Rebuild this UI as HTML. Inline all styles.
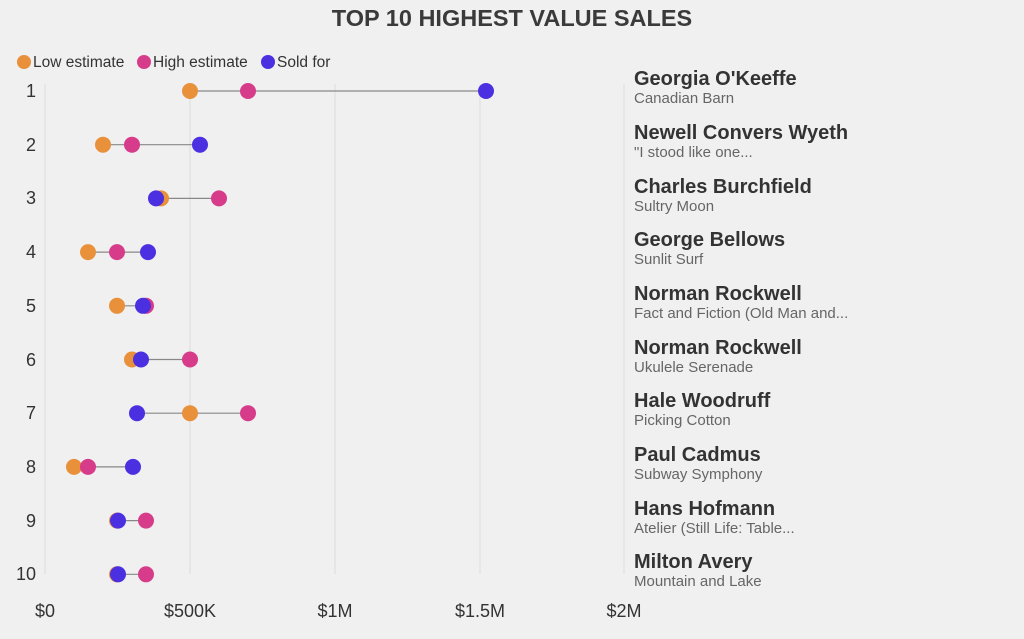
<!DOCTYPE html>
<html><head><meta charset="utf-8"><style>
body{margin:0;background:#f0f0f0;font-family:"Liberation Sans",sans-serif;}
</style></head><body>
<svg width="1024" height="634" xmlns="http://www.w3.org/2000/svg" font-family="Liberation Sans, sans-serif">
<rect width="1024" height="634" fill="#f0f0f0"/>
<text x="512" y="26" text-anchor="middle" font-size="23.5" font-weight="bold" fill="#3a3a3a">TOP 10 HIGHEST VALUE SALES</text>
<g font-size="15.5" fill="#333">
<circle cx="24" cy="62" r="7" fill="#E8903A"/><text x="33" y="67">Low estimate</text>
<circle cx="144" cy="62" r="7" fill="#D63C8A"/><text x="153" y="67">High estimate</text>
<circle cx="268" cy="62" r="7" fill="#4A30E0"/><text x="277" y="67">Sold for</text>
</g>
<g stroke="#dcdcdc" stroke-width="1">
<line x1="45" y1="84" x2="45" y2="574"/><line x1="190" y1="84" x2="190" y2="574"/>
<line x1="335" y1="84" x2="335" y2="574"/><line x1="480" y1="84" x2="480" y2="574"/>
<line x1="624" y1="84" x2="624" y2="574"/>
</g>
<g font-size="18" fill="#333" text-anchor="middle">
<text x="45" y="617">$0</text><text x="190" y="617">$500K</text><text x="335" y="617">$1M</text><text x="480" y="617">$1.5M</text><text x="624" y="617">$2M</text>
</g>
<g font-size="18" fill="#333" text-anchor="end">
<text x="36" y="97">1</text><text x="36" y="151">2</text><text x="36" y="204">3</text><text x="36" y="258">4</text><text x="36" y="312">5</text><text x="36" y="366">6</text><text x="36" y="419">7</text><text x="36" y="473">8</text><text x="36" y="527">9</text><text x="36" y="580">10</text>
</g>
<g stroke="#888" stroke-width="1.2">
<line x1="190" y1="91" x2="486" y2="91"/>
<line x1="103" y1="144.7" x2="200" y2="144.7"/>
<line x1="156" y1="198.4" x2="219" y2="198.4"/>
<line x1="88" y1="252.1" x2="148" y2="252.1"/>
<line x1="117" y1="305.8" x2="146" y2="305.8"/>
<line x1="132" y1="359.5" x2="190" y2="359.5"/>
<line x1="137" y1="413.2" x2="248" y2="413.2"/>
<line x1="74" y1="466.9" x2="133" y2="466.9"/>
<line x1="117" y1="520.6" x2="146" y2="520.6"/>
<line x1="117" y1="574.3" x2="146" y2="574.3"/>
</g>
<g fill="#E8903A">
<circle cx="190" cy="91" r="8"/><circle cx="103" cy="144.7" r="8"/><circle cx="161" cy="198.4" r="8"/><circle cx="88" cy="252.1" r="8"/><circle cx="117" cy="305.8" r="8"/><circle cx="132" cy="359.5" r="8"/><circle cx="190" cy="413.2" r="8"/><circle cx="74" cy="466.9" r="8"/><circle cx="117" cy="520.6" r="8"/><circle cx="117" cy="574.3" r="8"/>
</g>
<g fill="#D63C8A">
<circle cx="248" cy="91" r="8"/><circle cx="132" cy="144.7" r="8"/><circle cx="219" cy="198.4" r="8"/><circle cx="117" cy="252.1" r="8"/><circle cx="146" cy="305.8" r="8"/><circle cx="190" cy="359.5" r="8"/><circle cx="248" cy="413.2" r="8"/><circle cx="88" cy="466.9" r="8"/><circle cx="146" cy="520.6" r="8"/><circle cx="146" cy="574.3" r="8"/>
</g>
<g fill="#4A30E0">
<circle cx="486" cy="91" r="8"/><circle cx="200" cy="144.7" r="8"/><circle cx="156" cy="198.4" r="8"/><circle cx="148" cy="252.1" r="8"/><circle cx="143" cy="305.8" r="8"/><circle cx="141" cy="359.5" r="8"/><circle cx="137" cy="413.2" r="8"/><circle cx="133" cy="466.9" r="8"/><circle cx="118" cy="520.6" r="8"/><circle cx="118" cy="574.3" r="8"/>
</g>
<g font-size="20" font-weight="bold" fill="#333">
<text x="634" y="85">Georgia O'Keeffe</text>
<text x="634" y="139">Newell Convers Wyeth</text>
<text x="634" y="193">Charles Burchfield</text>
<text x="634" y="246">George Bellows</text>
<text x="634" y="300">Norman Rockwell</text>
<text x="634" y="354">Norman Rockwell</text>
<text x="634" y="407">Hale Woodruff</text>
<text x="634" y="461">Paul Cadmus</text>
<text x="634" y="515">Hans Hofmann</text>
<text x="634" y="568">Milton Avery</text>
</g>
<g font-size="15" fill="#666">
<text x="634" y="103">Canadian Barn</text>
<text x="634" y="157">"I stood like one...</text>
<text x="634" y="211">Sultry Moon</text>
<text x="634" y="264">Sunlit Surf</text>
<text x="634" y="318">Fact and Fiction (Old Man and...</text>
<text x="634" y="372">Ukulele Serenade</text>
<text x="634" y="425">Picking Cotton</text>
<text x="634" y="479">Subway Symphony</text>
<text x="634" y="533">Atelier (Still Life: Table...</text>
<text x="634" y="586">Mountain and Lake</text>
</g>
</svg>
</body></html>
